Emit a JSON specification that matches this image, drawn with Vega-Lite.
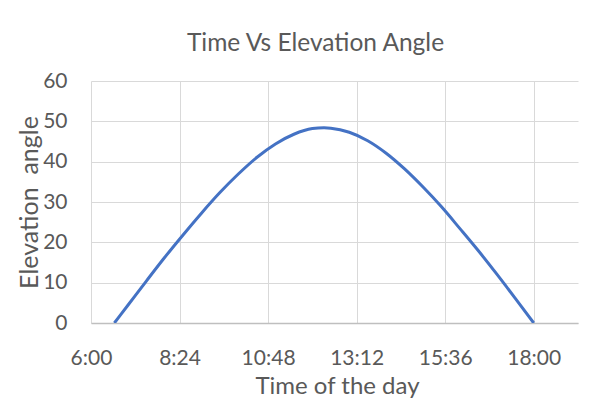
{
  "$schema": "https://vega.github.io/schema/vega-lite/v6.json",
  "width": 487,
  "height": 242,
  "autosize": "none",
  "padding": {"left": 91, "top": 81, "right": 38, "bottom": 80},
  "background": "white",
  "title": {
    "text": "Time Vs Elevation Angle",
    "font": "Lato",
    "fontSize": 24.5,
    "fontWeight": "normal",
    "color": "#595959",
    "anchor": "middle",
    "baseline": "alphabetic",
    "offset": 26,
    "dx": -19,
    "dy": 31
  },
  "data": {
    "values": [
      {"time": "2020-01-01T06:38", "elevation": 0},
      {"time": "2020-01-01T07:00", "elevation": 4.4},
      {"time": "2020-01-01T07:30", "elevation": 10.4},
      {"time": "2020-01-01T08:00", "elevation": 16.3},
      {"time": "2020-01-01T08:30", "elevation": 21.9},
      {"time": "2020-01-01T09:00", "elevation": 27.3},
      {"time": "2020-01-01T09:30", "elevation": 32.4},
      {"time": "2020-01-01T10:00", "elevation": 37.0},
      {"time": "2020-01-01T10:30", "elevation": 41.1},
      {"time": "2020-01-01T11:00", "elevation": 44.4},
      {"time": "2020-01-01T11:30", "elevation": 46.8},
      {"time": "2020-01-01T12:00", "elevation": 48.2},
      {"time": "2020-01-01T12:19", "elevation": 48.4},
      {"time": "2020-01-01T12:30", "elevation": 48.3},
      {"time": "2020-01-01T13:00", "elevation": 47.3},
      {"time": "2020-01-01T13:30", "elevation": 45.2},
      {"time": "2020-01-01T14:00", "elevation": 42.1},
      {"time": "2020-01-01T14:30", "elevation": 38.2},
      {"time": "2020-01-01T15:00", "elevation": 33.7},
      {"time": "2020-01-01T15:30", "elevation": 28.8},
      {"time": "2020-01-01T16:00", "elevation": 23.4},
      {"time": "2020-01-01T16:30", "elevation": 17.9},
      {"time": "2020-01-01T17:00", "elevation": 12.1},
      {"time": "2020-01-01T17:30", "elevation": 6.1},
      {"time": "2020-01-01T18:00", "elevation": 0}
    ]
  },
  "mark": {"type": "line", "color": "#4472C4", "strokeWidth": 3, "interpolate": "monotone", "clip": true},
  "encoding": {
    "x": {
      "field": "time",
      "type": "temporal",
      "scale": {
        "domain": [
          {"year": 2020, "month": 1, "date": 1, "hours": 6},
          {"year": 2020, "month": 1, "date": 1, "hours": 19, "minutes": 12}
        ]
      },
      "axis": {
        "title": "Time of the day",
        "values": [
          {"year": 2020, "month": 1, "date": 1, "hours": 6},
          {"year": 2020, "month": 1, "date": 1, "hours": 8, "minutes": 24},
          {"year": 2020, "month": 1, "date": 1, "hours": 10, "minutes": 48},
          {"year": 2020, "month": 1, "date": 1, "hours": 13, "minutes": 12},
          {"year": 2020, "month": 1, "date": 1, "hours": 15, "minutes": 36},
          {"year": 2020, "month": 1, "date": 1, "hours": 18}
        ],
        "format": "%-H:%M",
        "ticks": false,
        "tickSize": 0,
        "labelPadding": 41,
        "labelBaseline": "alphabetic",
        "labelFont": "Lato",
        "labelFontSize": 21,
        "labelColor": "#595959",
        "labelFlush": false,
        "labelOverlap": false,
        "grid": true,
        "gridColor": "#d9d9d9",
        "gridWidth": 1,
        "domain": true,
        "domainColor": "#bfbfbf",
        "domainWidth": 1.5,
        "titleFont": "Lato",
        "titleFontSize": 24,
        "titleFontWeight": "normal",
        "titleColor": "#595959",
        "titleX": 246,
        "titleY": 70,
        "titleBaseline": "alphabetic",
        "titleAlign": "center"
      }
    },
    "y": {
      "field": "elevation",
      "type": "quantitative",
      "scale": {"domain": [0, 60], "nice": false, "zero": true},
      "axis": {
        "title": "Elevation\u00a0 angle",
        "values": [0, 10, 20, 30, 40, 50, 60],
        "ticks": false,
        "tickSize": 0,
        "labelPadding": 24,
        "labelFont": "Lato",
        "labelFontSize": 21,
        "labelColor": "#595959",
        "labelFlush": false,
        "grid": true,
        "gridColor": "#d9d9d9",
        "gridWidth": 1,
        "domain": false,
        "titleFont": "Lato",
        "titleFontSize": 25,
        "titleFontWeight": "normal",
        "titleColor": "#595959",
        "titleX": -54,
        "titleY": 121,
        "titleAngle": 270,
        "titleBaseline": "alphabetic",
        "titleAlign": "center"
      }
    }
  },
  "config": {
    "view": {"stroke": null}
  }
}
